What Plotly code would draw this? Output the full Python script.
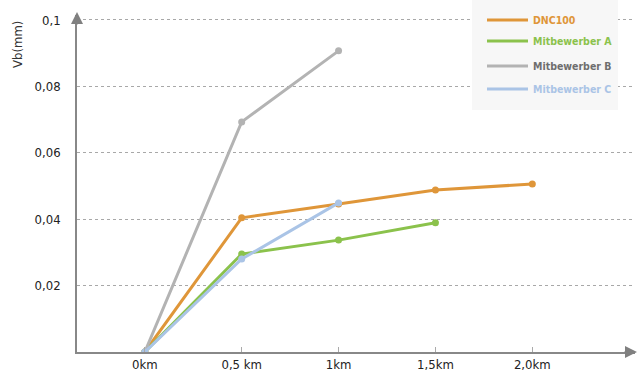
import plotly.graph_objects as go

km = [0, 0.5, 1.0, 1.5, 2.0]
km_labels = ["0km", "0,5 km", "1km", "1,5km", "2,0km"]
names = ["DNC100", "Mitbewerber A", "Mitbewerber B", "Mitbewerber C"]
dnc100 = [0, 0.0404, 0.0446, 0.0488, 0.0506]
mitb_a = [0, 0.0295, 0.0337, 0.0389]
mitb_b = [0, 0.0693, 0.0907]
mitb_c = [0, 0.028, 0.0449]
y_ticks = [0.02, 0.04, 0.06, 0.08, 0.1]
y_tick_labels = ["0,02", "0,04", "0,06", "0,08", "0,1"]

colors = ["#df9639", "#8bc24c", "#b3b3b3", "#aac4e6"]
text_colors = ["#df9639", "#8bc24c", "#6e6e6e", "#aac4e6"]
series = [dnc100, mitb_a, mitb_b, mitb_c]

FONT = "DejaVu Sans Condensed, Liberation Sans Narrow, Liberation Sans, sans-serif"
W, H = 641, 374
L, R, T, B = 77, 6, 15, 22
pw, ph = W - L - R, H - T - B

def px(x):
    return (x - L) / pw

def py(y):
    return (H - B - y) / ph

fig = go.Figure()
for name, vals, c in zip(names, series, colors):
    fig.add_trace(go.Scatter(
        x=km[:len(vals)], y=vals, name=name, mode="lines+markers",
        line=dict(color=c, width=3), marker=dict(color=c, size=7),
        showlegend=False))

shapes = [dict(type="rect", xref="paper", yref="paper",
               x0=px(472), x1=px(618), y0=py(110), y1=py(0),
               fillcolor="#f7f7f7", line=dict(width=0), layer="above")]
annotations = []
leg_y = [20, 41, 66, 89]
for i, (name, c, tc) in enumerate(zip(names, colors, text_colors)):
    yy = py(leg_y[i])
    shapes.append(dict(type="line", xref="paper", yref="paper",
                       x0=px(487), x1=px(528), y0=yy, y1=yy,
                       line=dict(color=c, width=3), layer="above"))
    annotations.append(dict(xref="paper", yref="paper", x=px(531), y=yy,
                            text="<b>" + name + "</b>", showarrow=False,
                            xanchor="left", yanchor="middle",
                            font=dict(family=FONT, size=10.5, color=tc)))

annotations.append(dict(xref="paper", yref="paper", x=px(18), y=py(45),
                        text="Vb(mm)", textangle=-90, showarrow=False,
                        xanchor="center", yanchor="middle",
                        font=dict(family=FONT, size=13, color="#333333")))
# axis arrows
annotations.append(dict(xref="paper", yref="paper", x=0, y=py(12),
                        ax=0, ay=14, text="", showarrow=True, arrowhead=2,
                        arrowsize=1.6, arrowwidth=1.5, arrowcolor="#808080"))
annotations.append(dict(xref="paper", yref="paper", x=px(637), y=0,
                        ax=-14, ay=0, text="", showarrow=True, arrowhead=2,
                        arrowsize=1.6, arrowwidth=1.5, arrowcolor="#808080"))

fig.update_layout(
    width=W, height=H,
    margin=dict(l=L, r=R, t=T, b=B),
    paper_bgcolor="white", plot_bgcolor="white",
    font=dict(family=FONT, size=13, color="#333333"),
    shapes=shapes, annotations=annotations,
    xaxis=dict(range=[-0.35, 2.53], tickvals=km, ticktext=km_labels,
               showgrid=False, zeroline=False, showline=True,
               linecolor="#888888", linewidth=1.5, ticks="inside",
               ticklen=5, tickcolor="#aaaaaa", automargin=False,
               tickfont=dict(family=FONT, size=13, color="#222222")),
    yaxis=dict(range=[0, 0.1015], tickvals=y_ticks, ticktext=y_tick_labels,
               showgrid=True, gridcolor="#a8a8a8", griddash="dot",
               gridwidth=1, zeroline=False, showline=True,
               linecolor="#888888", linewidth=1.5, ticks="",
               ticklabelstandoff=12, automargin=False,
               tickfont=dict(family=FONT, size=13, color="#222222")),
)

fig.write_html("out.html", config={"displayModeBar": False},
               post_script="document.body.style.margin='0px';document.body.style.overflow='hidden';")
